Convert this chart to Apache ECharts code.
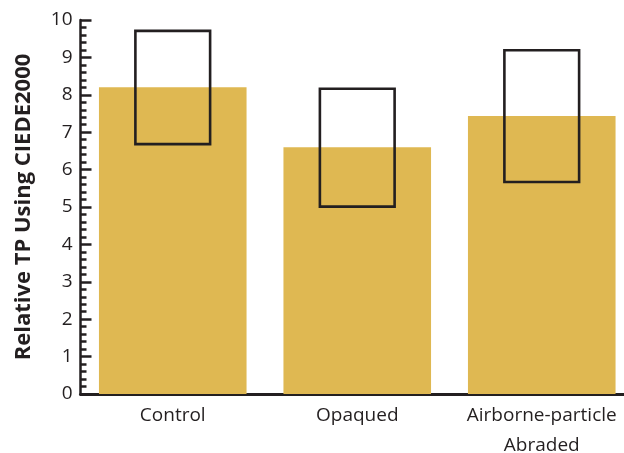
<!DOCTYPE html>
<html><head><meta charset="utf-8">
<script src="https://cdn.jsdelivr.net/npm/echarts@6/dist/echarts.min.js"></script>
<style>html,body{margin:0;padding:0;background:#fff}#c{width:624px;height:453px}</style>
</head><body><div id="c"></div>
<script>
var categories = ['Control', 'Opaqued', 'Airborne-particle\nAbraded'];
var barValues = [8.2, 6.6, 7.43];
var boxLow = [6.68, 5.01, 5.67];
var boxHigh = [9.71, 8.16, 9.19];
var yTicks = [0, 1, 2, 3, 4, 5, 6, 7, 8, 9, 10];

var chart = echarts.init(document.getElementById('c'), null, {renderer: 'canvas'});
var font = '"Open Sans", "Noto Sans", sans-serif';
var boxData = categories.map(function (c, i) { return [i, boxLow[i], boxHigh[i]]; });

chart.setOption({
  animation: false,
  grid: {left: 80.5, right: -10, top: 20, bottom: 59, containLabel: false, outerBoundsMode: 'none'},
  xAxis: {
    type: 'category', data: categories,
    axisLine: {show: true, lineStyle: {color: '#231f20', width: 3}},
    axisTick: {show: false},
    axisLabel: {color: '#231f20', fontSize: 19, fontFamily: font, margin: 7, lineHeight: 30, interval: 0}
  },
  yAxis: {
    type: 'value', min: yTicks[0], max: yTicks[yTicks.length - 1], interval: 1,
    name: 'Relative TP Using CIEDE2000', nameLocation: 'middle', nameGap: 46,
    nameTextStyle: {color: '#231f20', fontSize: 22, fontWeight: 'bold', fontFamily: font},
    axisLine: {show: true, lineStyle: {color: '#231f20', width: 2.5}},
    axisTick: {show: true, inside: true, length: 11, lineStyle: {color: '#231f20', width: 2.5}},
    minorTick: {show: true, splitNumber: 5, length: 6, lineStyle: {color: '#231f20', width: 2.5}},
    splitLine: {show: false},
    axisLabel: {color: '#231f20', fontSize: 19, fontFamily: font, margin: 8}
  },
  series: [
    {
      type: 'bar', data: barValues, barCategoryGap: '20%',
      itemStyle: {color: '#DFB852'}
    },
    {
      type: 'custom', data: boxData, z: 5,
      renderItem: function (params, api) {
        var lo = api.coord([api.value(0), api.value(1)]);
        var hi = api.coord([api.value(0), api.value(2)]);
        var w = api.size([1, 0])[0] * 0.405;
        return {
          type: 'rect',
          shape: {x: lo[0] - w / 2, y: hi[1], width: w, height: lo[1] - hi[1]},
          style: {fill: 'none', stroke: '#231f20', lineWidth: 2.6}
        };
      }
    }
  ]
});
</script></body></html>
